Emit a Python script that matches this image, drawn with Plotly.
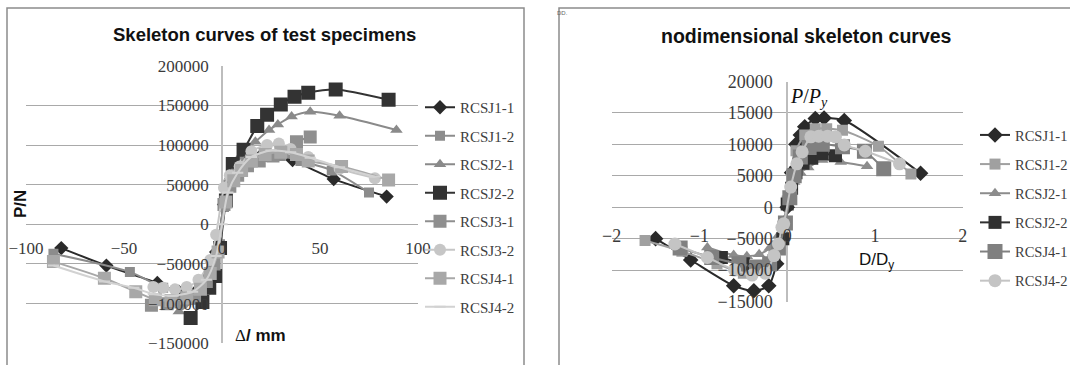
import plotly.graph_objects as go

W, H = 1070, 365

# ---------------- Left chart data (displacement / load) ----------------
left_names = ["RCSJ1-1", "RCSJ1-2", "RCSJ2-1", "RCSJ2-2", "RCSJ3-1", "RCSJ3-2", "RCSJ4-1", "RCSJ4-2"]

l_j11_x = [-82, -59, -33, -22, -13, -7, -3, 1, 4, 8, 13, 20, 28, 36, 57, 84]
l_j11_y = [-30000, -52000, -74000, -85000, -84000, -66000, -35000, 25000, 52000, 68000, 80000, 87000, 88000, 81000, 57000, 35000]

l_j12_x = [-86, -47, -30, -18, -9, -4, -1, 1, 4, 8, 14, 22, 30, 40, 56, 75]
l_j12_y = [-37000, -60000, -80000, -85000, -78000, -58000, -25000, 22000, 50000, 66000, 78000, 85000, 86000, 80000, 68000, 40000]

l_j21_x = [-22, -15, -9, -5, -2, 1, 4, 9, 17, 24, 28.5, 35.5, 45, 60, 89]
l_j21_y = [-110000, -98000, -85000, -65000, -35000, 28000, 60000, 85000, 104000, 119000, 126000, 136000, 142000, 137000, 119000]

l_j22_x = [-16, -10, -6.5, -3.5, -1, 2, 5.5, 11, 18, 23, 30, 37, 44, 58, 85]
l_j22_y = [-118000, -98000, -80000, -65000, -30000, 30000, 76000, 94000, 124000, 138000, 151000, 161000, 166000, 170000, 157000]

l_j31_x = [-36, -28, -21, -14, -8, -4, 1, 4, 8, 13, 19, 26, 33, 38, 45]
l_j31_y = [-102000, -100000, -98000, -90000, -72000, -50000, 25000, 48000, 62000, 74000, 80000, 86000, 92000, 104000, 110000]

l_j32_x = [-35, -30, -24, -18, -12, -6, -3, 1, 4, 9, 15, 23, 29, 35, 44, 60, 78]
l_j32_y = [-79000, -80000, -82000, -79000, -70000, -45000, -13000, 46000, 62000, 73000, 92000, 100000, 102000, 95000, 85000, 70000, 58000]

l_j41_x = [-86, -60, -44, -34, -26, -18, -11, -6, -2, 2, 6, 10, 15, 22, 30, 38, 44, 61, 85]
l_j41_y = [-47000, -68000, -85000, -95000, -96000, -93000, -82000, -62000, -35000, 28000, 55000, 68000, 80000, 88000, 91000, 88000, 80000, 73000, 56000]

l_j42_x = [-86, -60, -45, -35, -25, -15, -8, -3, 0, 3, 8, 15, 25, 35, 45, 60, 78]
l_j42_y = [-52000, -72000, -80000, -88000, -90000, -85000, -70000, -40000, 0, 40000, 65000, 85000, 93000, 91000, 84000, 72000, 60000]

left_x_ticks = [-100, -50, 0, 50, 100]
left_x_text = ["−100", "−50", "0", "50", "100"]
left_y_ticks = [-150000, -100000, -50000, 0, 50000, 100000, 150000, 200000]
left_y_text = ["−150000", "−100000", "−50000", "0", "50000", "100000", "150000", "200000"]

# ---------------- Right chart data (normalised) ----------------
right_names = ["RCSJ1-1", "RCSJ1-2", "RCSJ2-1", "RCSJ2-2", "RCSJ4-1", "RCSJ4-2"]

r_j11_x = [-1.5, -1.1, -0.61, -0.38, -0.21, -0.12, -0.05, 0.0, 0.05, 0.1, 0.15, 0.2, 0.32, 0.42, 0.65, 1.52]
r_j11_y = [-5000, -8400, -12500, -13300, -12500, -9000, -5000, 0, 5500, 10000, 11500, 12800, 14100, 14200, 13800, 5400]

r_j12_x = [-1.62, -1.2, -0.8, -0.5, -0.3, -0.15, -0.05, 0.0, 0.05, 0.1, 0.2, 0.32, 0.45, 0.63, 1.04, 1.41]
r_j12_y = [-5300, -7000, -9000, -10500, -10000, -7500, -3000, 1000, 5000, 9000, 11500, 12500, 12500, 12250, 9700, 5300]

r_j21_x = [-0.91, -0.61, -0.46, -0.32, -0.2, -0.1, -0.03, 0.02, 0.08, 0.15, 0.24, 0.4, 0.61, 0.91]
r_j21_y = [-6400, -7600, -7800, -7500, -6500, -4500, -2000, 1500, 4000, 5500, 6300, 7500, 7200, 6500]

r_j22_x = [-0.75, -0.5, -0.3, -0.15, -0.05, 0.0, 0.05, 0.1, 0.18, 0.28, 0.4, 0.55]
r_j22_y = [-8000, -9000, -9500, -8500, -5000, 500, 3000, 5500, 7000, 7800, 8500, 8200]

r_j41_x = [-1.22, -0.86, -0.55, -0.35, -0.2, -0.1, -0.02, 0.03, 0.08, 0.15, 0.25, 0.4, 0.63, 0.88, 1.1]
r_j41_y = [-6500, -8000, -9000, -9500, -9000, -6500, -2500, 1500, 5000, 8000, 9500, 10000, 9600, 8900, 6100]

r_j42_x = [-1.28, -0.91, -0.6, -0.4, -0.25, -0.15, -0.1, -0.06, -0.04, 0.04, 0.11, 0.17, 0.27, 0.36, 0.46, 0.55, 0.65, 0.89, 1.28]
r_j42_y = [-5850, -8000, -10000, -10800, -10500, -7700, -5850, -3200, -2650, 3200, 6900, 8800, 11200, 11300, 11300, 11200, 9900, 8900, 6900]

right_x_ticks = [-2, -1, 0, 1, 2]
right_x_text = ["−2", "−1", "0", "1", "2"]
right_y_ticks = [-15000, -10000, -5000, 0, 5000, 10000, 15000, 20000]
right_y_text = ["−15000", "−10000", "−5000", "0", "5000", "10000", "15000", "20000"]

# ---------------- styles ----------------
left_data = [(l_j11_x, l_j11_y), (l_j12_x, l_j12_y), (l_j21_x, l_j21_y), (l_j22_x, l_j22_y),
             (l_j31_x, l_j31_y), (l_j32_x, l_j32_y), (l_j41_x, l_j41_y), (l_j42_x, l_j42_y)]
left_style = [
    dict(color="#2a2a2a", symbol="diamond", size=11),
    dict(color="#8c8c8c", symbol="square", size=10),
    dict(color="#8a8a8a", symbol="triangle-up", size=11),
    dict(color="#333333", symbol="square", size=14),
    dict(color="#8f8f8f", symbol="square", size=13),
    dict(color="#c6c6c6", symbol="circle", size=12),
    dict(color="#a8a8a8", symbol="square", size=13),
    dict(color="#d2d2d2", symbol="line-ew-open", size=8),
]

right_data = [(r_j11_x, r_j11_y), (r_j12_x, r_j12_y), (r_j21_x, r_j21_y), (r_j22_x, r_j22_y),
              (r_j41_x, r_j41_y), (r_j42_x, r_j42_y)]
right_style = [
    dict(color="#2a2a2a", symbol="diamond", size=12),
    dict(color="#a0a0a0", symbol="square", size=11),
    dict(color="#8c8c8c", symbol="triangle-up", size=11),
    dict(color="#303030", symbol="square", size=13),
    dict(color="#808080", symbol="square", size=15),
    dict(color="#c4c4c4", symbol="circle", size=13),
]

fig = go.Figure()

for name, (xs, ys), st in zip(left_names, left_data, left_style):
    mk = dict(symbol=st["symbol"], size=st["size"], color=st["color"], line=dict(width=0))
    if st["symbol"].endswith("open"):
        mk["line"] = dict(width=2, color=st["color"])
    fig.add_trace(go.Scatter(
        x=xs, y=ys, name=name, mode="lines+markers", xaxis="x", yaxis="y",
        line=dict(color=st["color"], width=2, shape="spline", smoothing=0.7),
        marker=mk, legend="legend", legendgroup="L" + name))

for name, (xs, ys), st in zip(right_names, right_data, right_style):
    fig.add_trace(go.Scatter(
        x=xs, y=ys, name=name, mode="lines+markers", xaxis="x2", yaxis="y2",
        line=dict(color=st["color"], width=2, shape="spline", smoothing=0.7),
        marker=dict(symbol=st["symbol"], size=st["size"], color=st["color"], line=dict(width=0)),
        legend="legend2", legendgroup="R" + name))

def px(v):
    return v / W

def py(v):
    return 1 - v / H

tick_font = dict(family="Liberation Serif, DejaVu Serif, serif", size=17, color="#3a3a3a")
tick_font_r = dict(family="Liberation Serif, DejaVu Serif, serif", size=18, color="#3a3a3a")
grid_c = "#a9a9a9"

fig.update_layout(
    width=W, height=H, margin=dict(l=0, r=0, t=0, b=0, autoexpand=False),
    paper_bgcolor="white", plot_bgcolor="white", showlegend=True,
    xaxis=dict(domain=[px(26), px(418)], range=[-100, 100], anchor="free", position=py(236),
               tickvals=left_x_ticks, ticktext=left_x_text, tickfont=tick_font,
               showgrid=False, zeroline=True, zerolinecolor="#bdbdbd", zerolinewidth=1.5,
               showline=False, ticks="", automargin=False),
    yaxis=dict(domain=[py(343.3), py(65.7)], range=[-150000, 200000], anchor="free", position=px(222.7),
               tickvals=left_y_ticks, ticktext=left_y_text, tickfont=tick_font,
               showgrid=True, gridcolor=grid_c, gridwidth=1, zeroline=False,
               showline=False, ticks="", ticklabelstandoff=14, automargin=False),
    xaxis2=dict(domain=[px(611.7), px(962.7)], range=[-2, 2], anchor="free", position=py(223),
                tickvals=right_x_ticks, ticktext=right_x_text, tickfont=tick_font_r,
                showgrid=False, zeroline=True, zerolinecolor="#bdbdbd", zerolinewidth=1.5,
                showline=False, ticks="", automargin=False),
    yaxis2=dict(domain=[py(301.5), py(81.5)], range=[-15000, 20000], anchor="free", position=px(786.7),
                tickvals=right_y_ticks, ticktext=right_y_text, tickfont=tick_font_r,
                showgrid=True, gridcolor=grid_c, gridwidth=1, zeroline=False,
                showline=False, ticks="", ticklabelstandoff=14, automargin=False),
    legend=dict(x=px(420), y=py(91), xanchor="left", yanchor="top",
                font=dict(family="Liberation Serif, DejaVu Serif, serif", size=15, color="#404040"),
                bgcolor="rgba(255,255,255,0)", tracegroupgap=6, traceorder="grouped", itemwidth=30),
    legend2=dict(x=px(975), y=py(119), xanchor="left", yanchor="top",
                 font=dict(family="Liberation Serif, DejaVu Serif, serif", size=14.5, color="#404040"),
                 bgcolor="rgba(255,255,255,0)", tracegroupgap=7.3, traceorder="grouped", itemwidth=30),
)

anns = [
    dict(text="<b>Skeleton curves of test specimens</b>", x=px(264), y=py(34),
         font=dict(family="Liberation Sans, Arial, sans-serif", size=18.5, color="#111")),
    dict(text="<b>nodimensional skeleton curves</b>", x=px(806), y=py(36),
         font=dict(family="Liberation Sans, Arial, sans-serif", size=19.5, color="#111")),
    dict(text="<b>P/N</b>", x=px(20), y=py(204), textangle=-90,
         font=dict(family="Liberation Sans, Arial, sans-serif", size=17, color="#111")),
    dict(text="<span style='font-family:Liberation Serif'>Δ</span><b>/ mm</b>", x=px(260), y=py(335),
         font=dict(family="Liberation Sans, Arial, sans-serif", size=17, color="#111")),
    dict(text="<i>P</i>/<i>P<sub>y</sub></i>", x=px(809), y=py(97),
         font=dict(family="Liberation Serif, DejaVu Serif, serif", size=20, color="#111")),
    dict(text="D/D<sub>y</sub>", x=px(877), y=py(261),
         font=dict(family="Liberation Sans, Arial, sans-serif", size=17, color="#111")),
    dict(text="DD.", x=px(562), y=py(13),
         font=dict(family="Liberation Sans, Arial, sans-serif", size=6, color="#666")),
]
for a in anns:
    a.update(xref="paper", yref="paper", showarrow=False, xanchor="center", yanchor="middle")
fig.update_layout(annotations=anns)

fig.update_layout(shapes=[
    dict(type="rect", xref="paper", yref="paper", x0=px(7), x1=px(524), y0=-0.2, y1=py(8),
         line=dict(color="#8c8c8c", width=1.5), fillcolor="rgba(0,0,0,0)", layer="below"),
    dict(type="rect", xref="paper", yref="paper", x0=px(559), x1=1.2, y0=-0.2, y1=py(8),
         line=dict(color="#8c8c8c", width=1.5), fillcolor="rgba(0,0,0,0)", layer="below"),
])

fig.write_html("out.html", config={"displayModeBar": False},
               post_script="document.body.style.margin='0';document.body.style.overflow='hidden';")
